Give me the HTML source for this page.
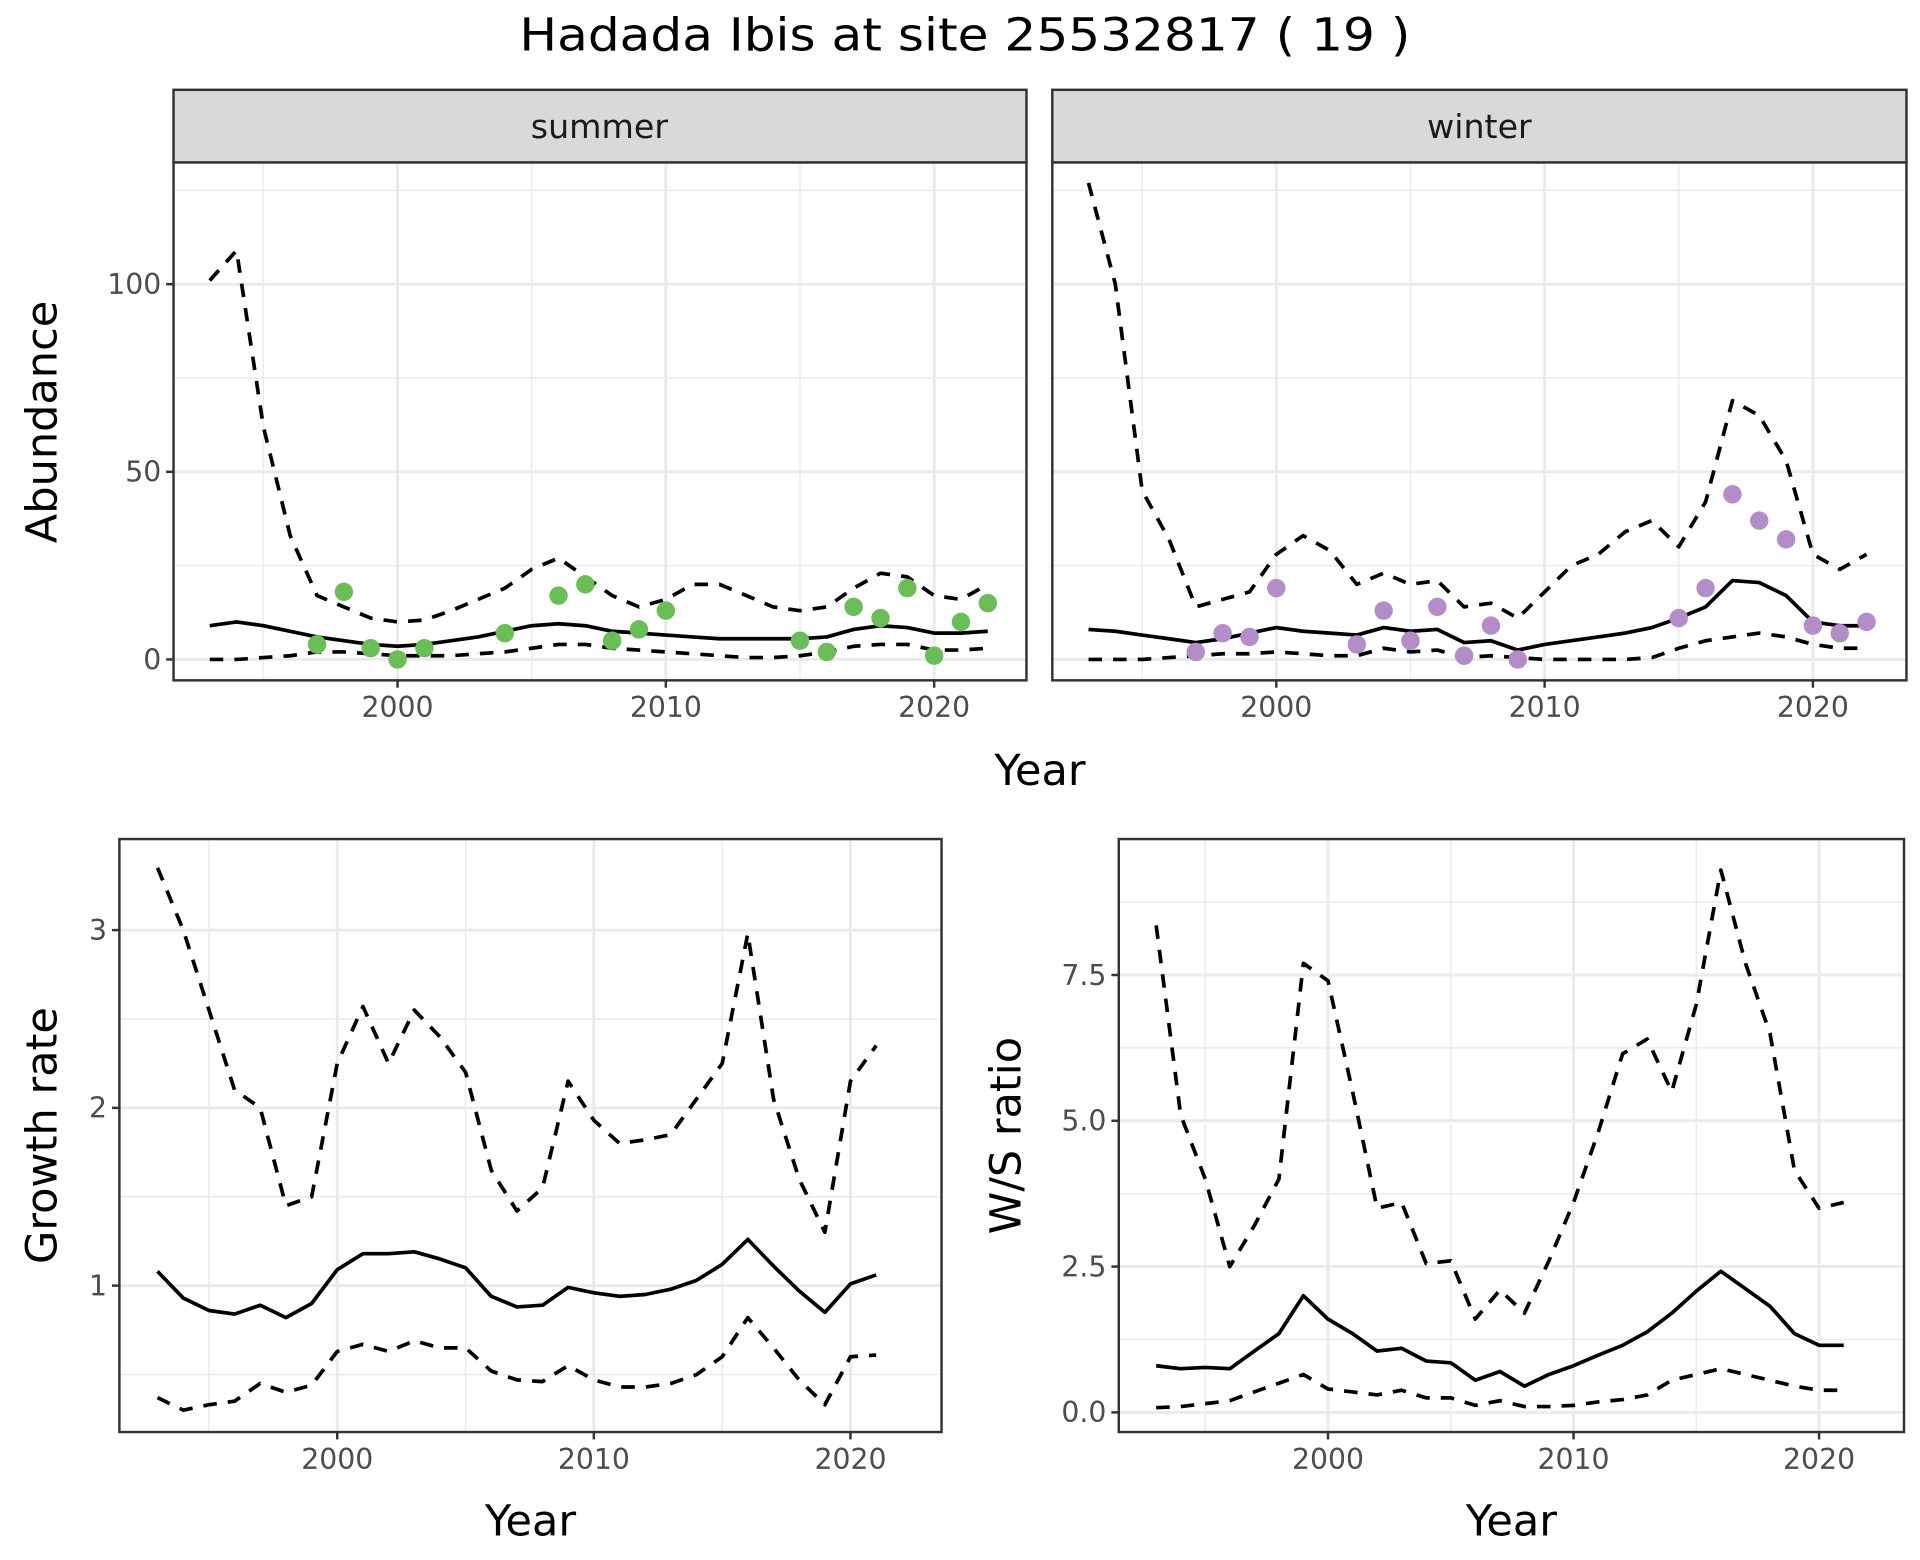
<!DOCTYPE html>
<html><head><meta charset="utf-8"><style>
html,body{margin:0;padding:0;background:#fff;}
svg{display:block;}
text{font-family:"DejaVu Sans","Liberation Sans",sans-serif;}
</style></head><body>
<svg id="s" xmlns="http://www.w3.org/2000/svg" width="1920" height="1560" viewBox="0 0 1560 1268" preserveAspectRatio="none"></svg>
<script>
const S=document.getElementById('s');let h='';
h+='<rect width="1560" height="1268" fill="#fff"/>';
h+='<text x="784" y="41" font-size="37" text-anchor="middle" fill="#000" textLength="724" lengthAdjust="spacingAndGlyphs">Hadada Ibis at site 25532817 ( 19 )</text>';
function panel(o){
  const {x0,x1,y0,y1,fx,fy,xmaj,xmin,ymaj,ymin,ylab}=o;
  h+=`<rect x="${x0}" y="${y0}" width="${x1-x0}" height="${y1-y0}" fill="#fff"/>`;
  xmin.forEach(v=>{const X=fx(v);h+=`<line x1="${X}" x2="${X}" y1="${y0}" y2="${y1}" stroke="#ebebeb" stroke-width="1.2"/>`});
  ymin.forEach(v=>{const Y=fy(v);h+=`<line x1="${x0}" x2="${x1}" y1="${Y}" y2="${Y}" stroke="#ebebeb" stroke-width="1.2"/>`});
  xmaj.forEach(v=>{const X=fx(v);h+=`<line x1="${X}" x2="${X}" y1="${y0}" y2="${y1}" stroke="#ebebeb" stroke-width="2.4"/>`;
    h+=`<line x1="${X}" x2="${X}" y1="${y1}" y2="${y1+6}" stroke="#333" stroke-width="2"/><text x="${X}" y="${y1+30}" font-size="23" fill="#4d4d4d" text-anchor="middle">${v}</text>`});
  ymaj.forEach((v,i)=>{const Y=fy(v);h+=`<line x1="${x0}" x2="${x1}" y1="${Y}" y2="${Y}" stroke="#ebebeb" stroke-width="2.4"/>`;
    if(ylab){h+=`<line x1="${x0-6}" x2="${x0}" y1="${Y}" y2="${Y}" stroke="#333" stroke-width="2"/><text x="${x0-10}" y="${Y+8}" font-size="23" fill="#4d4d4d" text-anchor="end">${ylab[i]}</text>`}});
}
function line(fx,fy,y0,arr,dash){
  const p=arr.map((v,i)=>fx(y0+i).toFixed(1)+','+fy(v).toFixed(1)).join(' ');
  h+=`<polyline points="${p}" fill="none" stroke="#000" stroke-width="3" ${dash?'stroke-dasharray="11,9"':''} stroke-linejoin="round"/>`;
}
function frame(x0,x1,y0,y1){h+=`<rect x="${x0}" y="${y0}" width="${x1-x0}" height="${y1-y0}" fill="none" stroke="#333" stroke-width="2"/>`;}
function pts(fx,fy,obj,col){for(const k in obj){h+=`<circle cx="${fx(+k)}" cy="${fy(obj[k])}" r="7.5" fill="${col}"/>`}}
const fyT=v=>536-v*3.05;
{const fx=v=>323+(v-2000)*21.8;
panel({x0:141,x1:834,y0:132,y1:553,fx,fy:fyT,xmaj:[2000,2010,2020],xmin:[1995,2005,2015],ymaj:[0,50,100],ymin:[25,75,125],ylab:['0','50','100']});
line(fx,fyT,1993,[101,109,62,33,17,14,11,10,10.5,13,16,19,24,27,22,17,14,16,20,20,17,14,13,14,19,23,22,17,16,20],1);
line(fx,fyT,1993,[9,10,9,7.5,6,5,4,3.5,4,5,6,7.5,9,9.5,9,7.5,7,6.5,6,5.5,5.5,5.5,5.5,6,8,9,8.5,7,7,7.5],0);
line(fx,fyT,1993,[0,0,0.5,1,2,2,1.5,1,1,1,1.5,2,3,4,4,3,2.5,2,1.5,1,0.5,0.5,1,2,3.5,4,4,2.5,2.5,3],1);
pts(fx,fyT,{1997:4,1998:18,1999:3,2000:0,2001:3,2004:7,2006:17,2007:20,2008:5,2009:8,2010:13,2015:5,2016:2,2017:14,2018:11,2019:19,2020:1,2021:10,2022:15},'#6abd57');
frame(141,834,132,553);
h+='<rect x="141" y="73" width="693" height="59" fill="#d9d9d9" stroke="#333" stroke-width="2"/><text x="487" y="112" font-size="27" text-anchor="middle" fill="#1a1a1a">summer</text>';}
{const fx=v=>1037+(v-2000)*21.8;
panel({x0:855,x1:1549,y0:132,y1:553,fx,fy:fyT,xmaj:[2000,2010,2020],xmin:[1995,2005,2015],ymaj:[0,50,100],ymin:[25,75,125],ylab:null});
line(fx,fyT,1993,[127,100,45,32,14,16,18,28,33,29,20,23,20,21,14,15,11,18,25,28,34,37,30,42,69,65,53,28,24,28],1);
line(fx,fyT,1993,[8,7.5,6.5,5.5,4.5,5.5,7,8.5,7.5,7,6.5,8.5,7.5,8,4.5,5,2.5,4,5,6,7,8.5,11,14,21,20.5,17,10,9,9],0);
line(fx,fyT,1993,[0,0,0,0.5,1,1.5,1.5,2,1.5,1,1,3,2,2.5,0.5,1,0.5,0,0,0,0,0.5,3,5,6,7,6,4,3,3],1);
pts(fx,fyT,{1997:2,1998:7,1999:6,2000:19,2003:4,2004:13,2005:5,2006:14,2007:1,2008:9,2009:0,2015:11,2016:19,2017:44,2018:37,2019:32,2020:9,2021:7,2022:10},'#b28dc8');
frame(855,1549,132,553);
h+='<rect x="855" y="73" width="694" height="59" fill="#d9d9d9" stroke="#333" stroke-width="2"/><text x="1202" y="112" font-size="27" text-anchor="middle" fill="#1a1a1a">winter</text>';}
h+='<text x="845" y="638" font-size="35" text-anchor="middle">Year</text>';
h+='<text transform="translate(46,343) rotate(-90)" font-size="35" text-anchor="middle">Abundance</text>';
{const fx=v=>274+(v-2000)*20.85, fy=v=>1045-(v-1)*144.5;
panel({x0:97,x1:765,y0:682,y1:1164,fx,fy,xmaj:[2000,2010,2020],xmin:[1995,2005,2015],ymaj:[1,2,3],ymin:[0.5,1.5,2.5],ylab:['1','2','3']});
line(fx,fy,1993,[3.35,3.0,2.55,2.1,2.0,1.45,1.5,2.25,2.57,2.25,2.55,2.4,2.2,1.65,1.42,1.55,2.15,1.93,1.8,1.82,1.85,2.05,2.25,2.98,2.05,1.6,1.3,2.15,2.35],1);
line(fx,fy,1993,[1.08,0.93,0.86,0.84,0.89,0.82,0.9,1.09,1.18,1.18,1.19,1.15,1.1,0.94,0.88,0.89,0.99,0.96,0.94,0.95,0.98,1.03,1.12,1.26,1.11,0.97,0.85,1.01,1.06],0);
line(fx,fy,1993,[0.37,0.3,0.33,0.35,0.45,0.4,0.44,0.63,0.67,0.63,0.69,0.65,0.65,0.52,0.47,0.46,0.55,0.47,0.43,0.43,0.45,0.5,0.6,0.82,0.65,0.47,0.33,0.6,0.61],1);
frame(97,765,682,1164);
h+='<text x="431" y="1248" font-size="35" text-anchor="middle">Year</text>';
h+='<text transform="translate(46,923) rotate(-90)" font-size="35" text-anchor="middle">Growth rate</text>';}
{const fx=v=>1079+(v-2000)*19.95, fy=v=>1148-v*47.4;
panel({x0:909,x1:1547,y0:682,y1:1164,fx,fy,xmaj:[2000,2010,2020],xmin:[1995,2005,2015],ymaj:[0,2.5,5,7.5],ymin:[1.25,3.75,6.25,8.75],ylab:['0.0','2.5','5.0','7.5']});
line(fx,fy,1993,[8.35,5.1,4.0,2.5,3.2,4.0,7.7,7.4,5.5,3.5,3.6,2.55,2.6,1.6,2.1,1.7,2.6,3.6,4.8,6.15,6.4,5.5,7.0,9.3,7.7,6.5,4.15,3.5,3.6],1);
line(fx,fy,1993,[0.8,0.75,0.77,0.75,1.05,1.35,2.0,1.6,1.35,1.05,1.1,0.88,0.85,0.55,0.7,0.45,0.65,0.8,0.98,1.15,1.38,1.7,2.08,2.42,2.12,1.82,1.35,1.15,1.15],0);
line(fx,fy,1993,[0.08,0.1,0.15,0.2,0.35,0.5,0.65,0.4,0.35,0.3,0.38,0.25,0.25,0.12,0.2,0.1,0.1,0.12,0.18,0.22,0.3,0.55,0.65,0.75,0.65,0.55,0.45,0.38,0.38],1);
frame(909,1547,682,1164);
h+='<text x="1228" y="1248" font-size="35" text-anchor="middle">Year</text>';
h+='<text transform="translate(829,923) rotate(-90)" font-size="35" text-anchor="middle">W/S ratio</text>';}
S.innerHTML=h;
</script>
</body></html>
